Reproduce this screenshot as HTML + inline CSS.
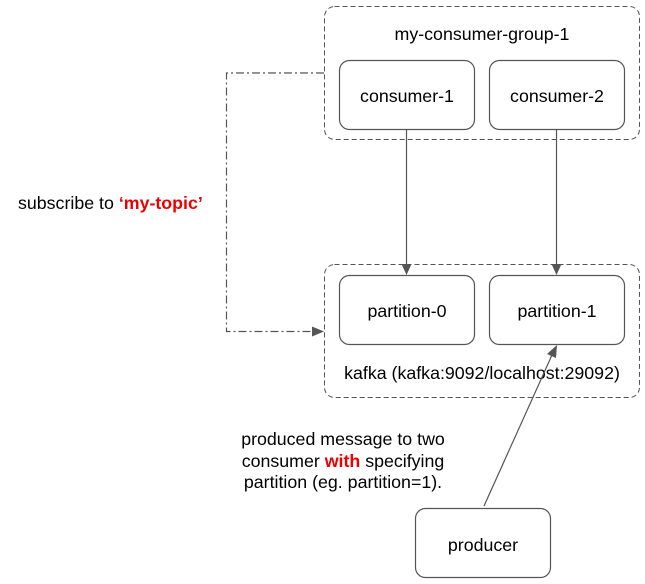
<!DOCTYPE html>
<html><head><style>body{margin:0;background:#fff}svg{display:block}</style></head><body>
<svg width="645" height="584" xmlns="http://www.w3.org/2000/svg" font-family="Liberation Sans, sans-serif" font-size="17.8" fill="#000">
<rect x="324.5" y="6.5" width="315" height="133" rx="10" fill="none" stroke="#555" stroke-dasharray="5,3"/>
<rect x="324.5" y="264.5" width="315" height="133" rx="10" fill="none" stroke="#555" stroke-dasharray="5,3"/>
<g fill="#fff" stroke="#555" stroke-width="1.2">
<rect x="339.5" y="60.5" width="135" height="69" rx="10"/>
<rect x="489.5" y="60.5" width="135" height="69" rx="10"/>
<rect x="339.5" y="275.5" width="135" height="69" rx="10"/>
<rect x="489.5" y="275.5" width="135" height="69" rx="10"/>
<rect x="415.5" y="508.5" width="135" height="69" rx="10"/>
</g>
<g text-anchor="middle">
<text x="482" y="40">my-consumer-group-1</text>
<text x="407" y="102">consumer-1</text>
<text x="557" y="102">consumer-2</text>
<text x="407" y="317">partition-0</text>
<text x="557" y="317">partition-1</text>
<text x="482" y="379">kafka (kafka:9092/localhost:29092)</text>
<text x="483" y="551">producer</text>
<text x="343" y="445">produced message to two</text>
<text x="343" y="467">consumer <tspan fill="#e00" font-weight="bold">with</tspan> specifying</text>
<text x="343" y="488">partition (eg. partition=1).</text>
</g>
<text x="18" y="209">subscribe to <tspan fill="#e00" font-weight="bold">‘my-topic’</tspan></text>
<g stroke="#555" stroke-width="1.2" fill="none">
<line x1="406.5" y1="130" x2="406.5" y2="265"/>
<line x1="556.5" y1="130" x2="556.5" y2="265"/>
<line x1="484" y1="506" x2="552" y2="355"/>
<polyline points="324,73 226.5,73 226.5,331.5 312,331.5" stroke-dasharray="8,3,2,3"/>
</g>
<g fill="#555">
<polygon points="401.5,264 411.5,264 406.5,275"/>
<polygon points="551.5,264 561.5,264 556.5,275"/>
<polygon points="557,345 556,358 547,354"/>
<polygon points="312,326.5 312,336.5 324,331.5"/>
</g>
</svg>
</body></html>
